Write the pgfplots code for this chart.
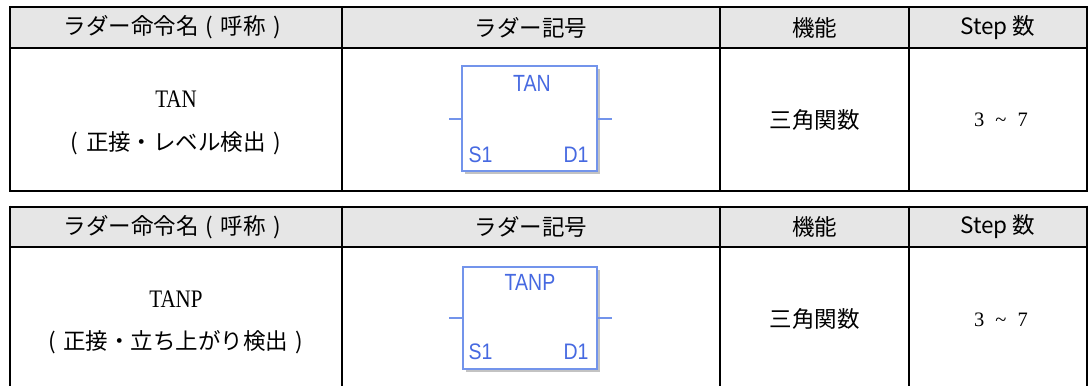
\documentclass[border=0pt]{standalone}
\usepackage{pgfplots}
\pgfplotsset{compat=1.18}
\usepackage{fontspec}
\newfontfamily\jp{Noto Sans CJK JP}
\newfontfamily\tnr{Liberation Serif}
\newfontfamily\ars{Liberation Sans}
\definecolor{hdr}{RGB}{230,230,230}
\definecolor{bblue}{RGB}{115,148,235}
\definecolor{tblue}{RGB}{70,105,225}
\definecolor{shd}{RGB}{195,195,195}
\newcommand{\J}{\jp\fontsize{22.5}{24}\selectfont}
\newcommand{\T}{\tnr\fontsize{21}{22}\selectfont}
\newcommand{\D}{\tnr\fontsize{20.5}{22}\selectfont}
\newcommand{\A}{\ars\fontsize{19.5}{20}\selectfont}
\newcommand{\lp}{\makebox[1em][c]{(}}
\newcommand{\rp}{\makebox[1em][c]{)}}
\begin{document}
\begin{tikzpicture}
\useasboundingbox (0,0) rectangle (1088pt,386pt);
\begin{axis}[at={(0,0)},anchor=south west,scale only axis,width=1088pt,height=386pt,
  xmin=0,xmax=1088,ymin=0,ymax=386,hide axis,clip=false]
% ---------- table 1 ----------
\fill[hdr] (9.5,338.3) rectangle (1087,378.7);
\draw[line width=2pt] (9.5,378.7) -- (1087,378.7);
\draw[line width=2pt] (9.5,338.3) -- (1087,338.3);
\draw[line width=2pt] (9.5,195.3) -- (1087,195.3);
\pgfplotsinvokeforeach{9.5,342,720,909,1087}{\draw[line width=2pt] (#1,379.7) -- (#1,194.3);}
\node[inner sep=0] at (176,358.5) {\J ラダー命令名\lp 呼称\rp};
\node[inner sep=0] at (531,358.5) {\J ラダー記号};
\node[inner sep=0] at (814.5,358.5) {\J 機能};
\node[inner sep=0] at (998,358.5) {\J Step 数};
\node[inner sep=0] at (176,287) {\T\scalebox{1}[1.2]{TAN}};
\node[inner sep=0] at (176,243) {\J \lp 正接・レベル検出\rp};
\node[inner sep=0] at (814.5,266) {\J 三角関数};
\node[inner sep=0] at (1001,266) {\D 3\hspace{11pt}\textasciitilde\hspace{11pt}7};
% symbol 1
\fill[shd] (465,212) rectangle (600,317);
\fill[white] (462,215) rectangle (597,320);
\draw[bblue,line width=2pt] (462,215) rectangle (597,320);
\draw[bblue,line width=1.5pt] (449,267) -- (462,267);
\draw[bblue,line width=1.5pt] (597,267) -- (612,267);
\node[inner sep=0,text=tblue] at (532,303) {\A\scalebox{1}[1.2]{TAN}};
\node[inner sep=0,text=tblue] at (480.5,231) {\A\scalebox{1}[1.15]{S1}};
\node[inner sep=0,text=tblue] at (576,231) {\A\scalebox{1}[1.15]{D1}};
% ---------- table 2 ----------
\fill[hdr] (9.5,139.3) rectangle (1087,179.3);
\draw[line width=2pt] (9.5,179.3) -- (1087,179.3);
\draw[line width=2pt] (9.5,139.3) -- (1087,139.3);
\pgfplotsinvokeforeach{9.5,342,720,909,1087}{\draw[line width=2pt] (#1,180.3) -- (#1,0);}
\node[inner sep=0] at (176,159.3) {\J ラダー命令名\lp 呼称\rp};
\node[inner sep=0] at (531,159.3) {\J ラダー記号};
\node[inner sep=0] at (814.5,159.3) {\J 機能};
\node[inner sep=0] at (998,159.3) {\J Step 数};
\node[inner sep=0] at (176,87) {\T\scalebox{1}[1.2]{TANP}};
\node[inner sep=0] at (176,44) {\J \lp 正接・立ち上がり検出\rp};
\node[inner sep=0] at (814.5,67) {\J 三角関数};
\node[inner sep=0] at (1001,66) {\D 3\hspace{11pt}\textasciitilde\hspace{11pt}7};
% symbol 2
\fill[shd] (466,14) rectangle (600,116);
\fill[white] (463,17) rectangle (597,119);
\draw[bblue,line width=2pt] (463,17) rectangle (597,119);
\draw[bblue,line width=1.5pt] (449,68) -- (463,68);
\draw[bblue,line width=1.5pt] (597,68) -- (612,68);
\node[inner sep=0,text=tblue] at (530,104) {\A\scalebox{1}[1.2]{TANP}};
\node[inner sep=0,text=tblue] at (480.5,34) {\A\scalebox{1}[1.15]{S1}};
\node[inner sep=0,text=tblue] at (576,34) {\A\scalebox{1}[1.15]{D1}};
\end{axis}
\end{tikzpicture}
\end{document}
